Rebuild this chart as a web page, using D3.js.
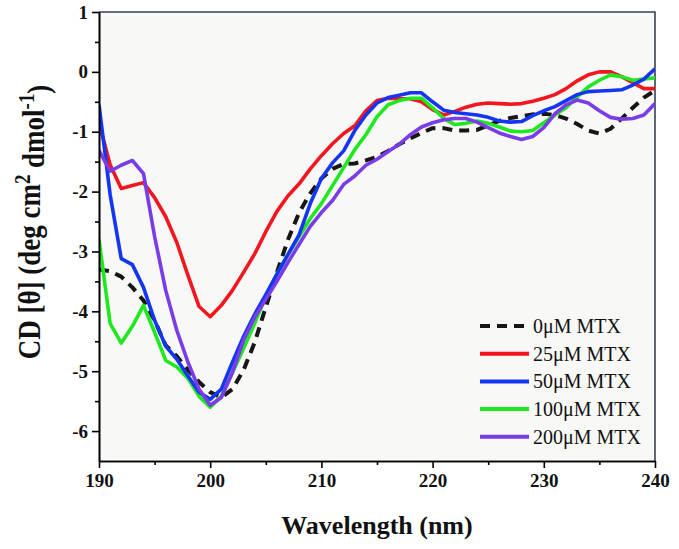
<!DOCTYPE html>
<html><head><meta charset="utf-8">
<script src="https://cdn.jsdelivr.net/npm/d3@7"></script>
<style>html,body{margin:0;padding:0;background:#fff;} svg{display:block;}</style>
</head><body>
<svg id="chart" width="679" height="549"></svg>
<script>
const wavelengths = [190,191,192,193,194,195,196,197,198,199,200,201,202,203,204,205,206,207,208,209,210,211,212,213,214,215,216,217,218,219,220,221,222,223,224,225,226,227,228,229,230,231,232,233,234,235,236,237,238,239,240];
const cd0uM = [-3.3,-3.33,-3.42,-3.6,-3.82,-4.15,-4.57,-4.75,-4.98,-5.18,-5.35,-5.44,-5.3,-4.98,-4.52,-3.93,-3.35,-2.8,-2.35,-2.03,-1.78,-1.62,-1.54,-1.53,-1.48,-1.42,-1.32,-1.21,-1.11,-1.02,-0.94,-0.94,-0.98,-0.98,-0.97,-0.89,-0.82,-0.77,-0.74,-0.71,-0.7,-0.72,-0.78,-0.87,-0.98,-1.03,-0.95,-0.78,-0.6,-0.43,-0.31];
const cd25uM = [-0.85,-1.55,-1.95,-1.9,-1.85,-2.1,-2.42,-2.85,-3.4,-3.92,-4.09,-3.9,-3.65,-3.35,-3.04,-2.67,-2.33,-2.07,-1.87,-1.62,-1.4,-1.2,-1.03,-0.9,-0.65,-0.48,-0.44,-0.45,-0.45,-0.5,-0.63,-0.72,-0.66,-0.59,-0.54,-0.52,-0.53,-0.54,-0.53,-0.49,-0.44,-0.38,-0.28,-0.15,-0.05,0.0,0.0,-0.08,-0.18,-0.28,-0.28];
const cd50uM = [-0.55,-2.05,-3.12,-3.22,-3.6,-4.15,-4.58,-4.8,-5.08,-5.35,-5.47,-5.3,-4.85,-4.42,-4.05,-3.72,-3.38,-3.05,-2.72,-2.2,-1.78,-1.52,-1.32,-0.98,-0.72,-0.52,-0.43,-0.39,-0.35,-0.35,-0.5,-0.64,-0.68,-0.7,-0.72,-0.76,-0.82,-0.84,-0.83,-0.73,-0.65,-0.58,-0.48,-0.38,-0.33,-0.32,-0.31,-0.3,-0.22,-0.12,0.05];
const cd100uM = [-2.8,-4.2,-4.53,-4.25,-3.9,-4.35,-4.82,-4.93,-5.12,-5.42,-5.6,-5.42,-5.02,-4.62,-4.2,-3.75,-3.38,-3.05,-2.75,-2.45,-2.2,-1.9,-1.6,-1.3,-1.05,-0.75,-0.55,-0.48,-0.44,-0.44,-0.6,-0.78,-0.88,-0.86,-0.82,-0.86,-0.92,-0.99,-1.0,-0.98,-0.85,-0.72,-0.6,-0.42,-0.25,-0.14,-0.05,-0.08,-0.14,-0.12,-0.1];
const cd200uM = [-1.31,-1.66,-1.56,-1.48,-1.7,-2.75,-3.65,-4.32,-4.85,-5.3,-5.57,-5.44,-5.02,-4.48,-4.1,-3.8,-3.5,-3.18,-2.88,-2.58,-2.35,-2.15,-1.88,-1.74,-1.56,-1.46,-1.33,-1.21,-1.05,-0.92,-0.85,-0.8,-0.78,-0.78,-0.84,-0.93,-1.02,-1.08,-1.13,-1.08,-0.93,-0.7,-0.55,-0.47,-0.52,-0.65,-0.76,-0.79,-0.78,-0.72,-0.53];
const seriesLabels = ["0\u03bcM MTX","25\u03bcM MTX","50\u03bcM MTX","100\u03bcM MTX","200\u03bcM MTX"];
const seriesColors = ["#161616","#f4161e","#1436f2","#1fe81f","#7a3ce8"];
const xTicks = [190,200,210,220,230,240];
const xMinorTicks = [195,205,215,225,235];
const yTicks = [1,0,-1,-2,-3,-4,-5,-6];
const yMinorTicks = [0.5,-0.5,-1.5,-2.5,-3.5,-4.5,-5.5];

const seriesValues = [cd0uM, cd25uM, cd50uM, cd100uM, cd200uM];
const W = 679, H = 549;
const margin = {top: 12, right: 24, bottom: 88, left: 99};
const font = "'Liberation Serif','Times New Roman',serif";
const svg = d3.select("#chart");
const x = d3.scaleLinear().domain([190, 240]).range([margin.left, W - margin.right]);
const y = d3.scaleLinear().domain([-6.5, 1]).range([H - margin.bottom, margin.top]);

svg.append("rect").attr("x", x(190)).attr("y", y(1)).attr("width", x(240) - x(190)).attr("height", y(-6.5) - y(1)).attr("fill", "#f8f8f6");

svg.append("defs").append("clipPath").attr("id", "clip").append("rect")
  .attr("x", x(190)).attr("y", y(1)).attr("width", x(240) - x(190)).attr("height", y(-6.5) - y(1));

svg.append("path").attr("d", `M${x(190)},${y(1)}H${x(240)}V${y(-6.5)}`).attr("fill", "none").attr("stroke", "#3a4152").attr("stroke-width", 1.6);

const line = d3.line().x((d, i) => x(wavelengths[i])).y(d => y(d));
const g = svg.append("g").attr("clip-path", "url(#clip)");
const order = [0, 1, 3, 2, 4];
order.forEach(k => {
  g.append("path").datum(seriesValues[k]).attr("d", line)
    .attr("fill", "none").attr("stroke", seriesColors[k])
    .attr("stroke-width", k === 0 ? 4 : 3.6)
    .attr("stroke-linejoin", "round")
    .attr("stroke-dasharray", k === 0 ? "10,7" : null);
});

function styleAxis(sel) {
  sel.select(".domain").attr("stroke", "#000").attr("stroke-width", 1.6);
  sel.selectAll(".tick line").attr("stroke", "#000").attr("stroke-width", 1.6);
  sel.selectAll("text").attr("font-family", font).attr("font-weight", "bold").attr("font-size", 19).attr("fill", "#111");
}
const xAxis = svg.append("g").attr("transform", `translate(0,${y(-6.5)})`)
  .call(d3.axisBottom(x).tickValues(xTicks).tickSize(7).tickPadding(6).tickSizeOuter(0).tickFormat(d => String(d)));
styleAxis(xAxis);
const xMinor = svg.append("g").attr("transform", `translate(0,${y(-6.5)})`)
  .call(d3.axisBottom(x).tickValues(xMinorTicks).tickSize(4).tickSizeOuter(0).tickFormat(""));
styleAxis(xMinor);
const yAxis = svg.append("g").attr("transform", `translate(${x(190)},0)`)
  .call(d3.axisLeft(y).tickValues(yTicks).tickSize(7).tickPadding(4).tickSizeOuter(0).tickFormat(d => String(d)));
styleAxis(yAxis);
const yMinor = svg.append("g").attr("transform", `translate(${x(190)},0)`)
  .call(d3.axisLeft(y).tickValues(yMinorTicks).tickSize(4).tickSizeOuter(0).tickFormat(""));
styleAxis(yMinor);

svg.append("text").attr("x", (x(190) + x(240)) / 2).attr("y", 534)
  .attr("text-anchor", "middle").attr("font-family", font).attr("font-weight", "bold")
  .attr("font-size", 26).attr("fill", "#111").text("Wavelength (nm)");

const yt = svg.append("text").attr("transform", "translate(40,222) rotate(-90) scale(1,1.2)")
  .attr("text-anchor", "middle").attr("font-family", font).attr("font-weight", "bold")
  .attr("font-size", 27).attr("fill", "#111");
yt.append("tspan").text("CD [\u03b8] (deg cm");
yt.append("tspan").attr("dy", "-0.45em").attr("font-size", "0.7em").text("2");
yt.append("tspan").attr("dy", "0.45em").text(" dmol");
yt.append("tspan").attr("dy", "-0.45em").attr("font-size", "0.7em").text("-1");
yt.append("tspan").attr("dy", "0.45em").text(")");

const legend = svg.append("g");
seriesLabels.forEach((lab, k) => {
  const ly = 326 + k * 27.7;
  legend.append("line").attr("x1", 480).attr("x2", 529).attr("y1", ly).attr("y2", ly)
    .attr("stroke", seriesColors[k]).attr("stroke-width", 4)
    .attr("stroke-dasharray", k === 0 ? "10,7" : null);
  legend.append("text").attr("x", 533).attr("y", ly + 7).attr("font-family", font)
    .attr("font-size", 20).attr("fill", "#111").text(lab);
});
</script>
</body></html>
